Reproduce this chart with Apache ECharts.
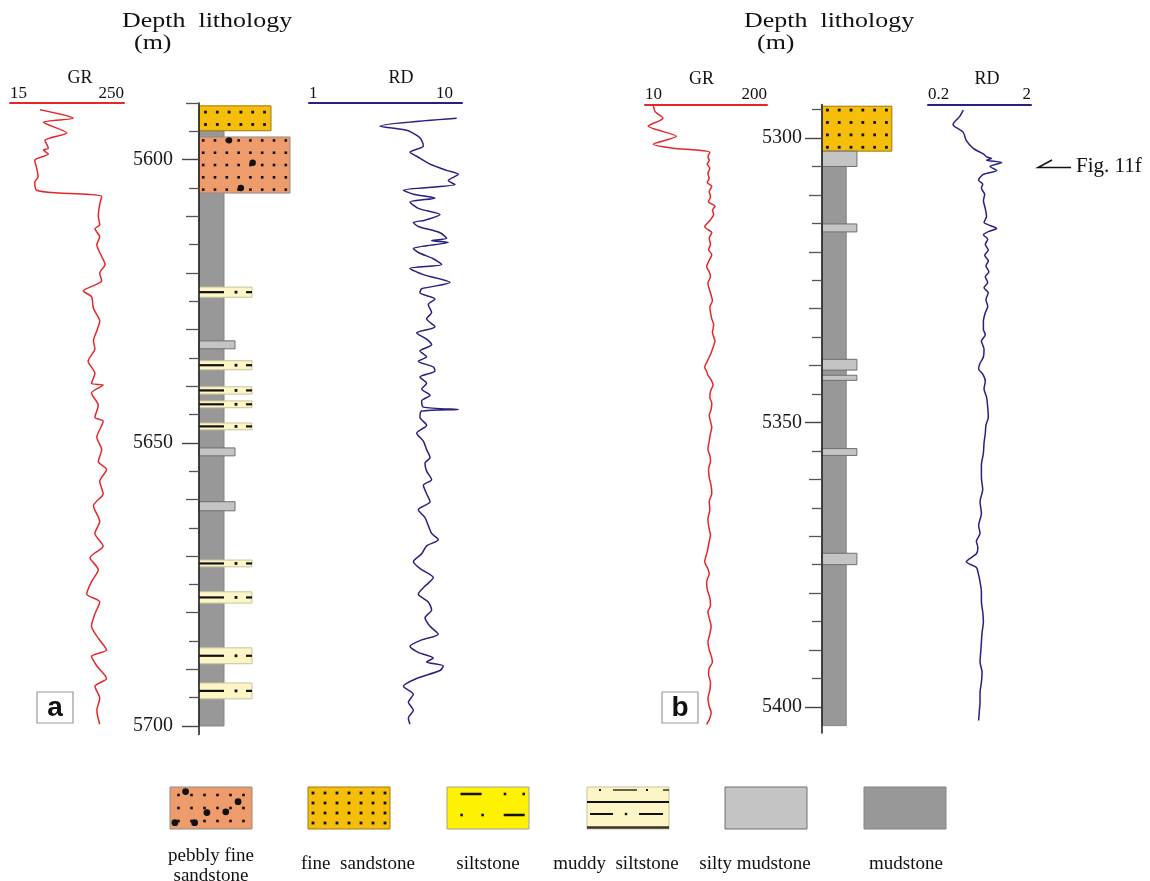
<!DOCTYPE html>
<html><head><meta charset="utf-8">
<script src="https://cdn.jsdelivr.net/npm/echarts@6/dist/echarts.min.js"></script>
<style>html,body{margin:0;padding:0;background:#fff}#c{width:1150px;height:881px}</style>
</head><body><div id="c"></div>
<script>
// ---------------- DATA ----------------
// Well a : [depth (m), value]
const grA = [[5591.2,77],[5592.7,145],[5593.4,84],[5595.3,132],[5596.6,87],[5598.0,94],[5598.3,84],[5599.0,94],[5600.1,66],[5601.5,70],[5603.0,73],[5604.0,66],[5605.4,70],[5605.9,118],[5606.5,204],[5607.9,200],[5610.0,197],[5611.5,200],[5612.2,190],[5613.6,200],[5615.0,194],[5617.1,204],[5618.5,211],[5620.0,200],[5621.4,204],[5623.2,166],[5624.2,183],[5626.3,187],[5628.5,200],[5630.2,194],[5632.0,187],[5633.4,190],[5635.6,176],[5637.7,190],[5639.5,183],[5639.8,207],[5641.2,183],[5643.4,197],[5645.5,190],[5646.2,207],[5649.0,194],[5651.2,204],[5653.3,197],[5654.7,214],[5656.8,200],[5659.0,207],[5661.1,187],[5663.9,200],[5666.0,190],[5668.2,207],[5670.3,180],[5672.4,197],[5674.5,183],[5676.7,173],[5678.1,200],[5680.2,190],[5682.4,183],[5684.5,197],[5686.6,214],[5687.7,183],[5689.4,194],[5691.6,214],[5693.0,190],[5695.1,200],[5697.2,194],[5699.7,200]];
const rdA = [[5592.7,9.23],[5594.1,2.91],[5594.8,4.35],[5595.9,5.18],[5596.6,5.45],[5597.6,5.59],[5598.7,4.57],[5599.4,5.06],[5600.8,6.18],[5601.9,7.94],[5602.6,9.46],[5603.7,8.14],[5604.4,9.0],[5605.4,4.14],[5606.1,4.81],[5606.8,6.66],[5607.5,4.57],[5608.6,5.18],[5609.7,7.18],[5610.7,5.73],[5611.1,4.81],[5611.8,5.18],[5612.9,7.18],[5613.9,7.94],[5614.3,6.33],[5614.6,8.14],[5615.7,4.81],[5616.4,5.18],[5617.5,6.49],[5618.5,7.36],[5619.2,4.57],[5620.3,5.59],[5621.7,8.35],[5622.8,5.45],[5623.5,5.31],[5624.6,6.66],[5625.6,6.02],[5627.0,6.33],[5628.1,5.87],[5629.5,6.66],[5630.6,5.06],[5631.7,5.87],[5632.7,6.33],[5633.8,5.31],[5634.8,5.87],[5635.6,5.18],[5636.6,6.49],[5637.3,6.66],[5638.4,5.31],[5639.5,5.87],[5640.5,5.45],[5641.6,6.18],[5642.6,5.45],[5643.7,5.59],[5644.1,9.46],[5644.4,5.45],[5645.5,5.31],[5646.9,5.87],[5648.3,5.06],[5649.7,5.59],[5651.2,5.87],[5652.6,6.18],[5653.6,5.73],[5655.0,5.87],[5656.5,6.33],[5657.5,5.59],[5659.0,5.87],[5660.4,6.18],[5661.8,5.18],[5663.2,5.73],[5664.6,6.02],[5666.0,6.33],[5667.1,7.0],[5668.2,5.87],[5669.6,5.45],[5671.0,4.81],[5672.4,5.45],[5673.8,6.49],[5675.3,5.73],[5676.7,5.18],[5678.1,6.02],[5679.5,6.33],[5680.9,5.73],[5682.4,6.18],[5683.8,7.0],[5684.8,5.45],[5685.9,4.57],[5687.0,5.18],[5688.0,6.49],[5688.7,5.87],[5689.4,7.55],[5690.2,7.18],[5691.6,5.06],[5693.0,4.14],[5694.4,4.81],[5695.8,4.46],[5697.2,4.81],[5698.6,4.46],[5699.7,4.57]];
// Well b
const grB = [[5294.4,23],[5295.4,26],[5296.5,38],[5297.9,15],[5299.7,59],[5301.1,23],[5301.8,54],[5302.1,90],[5302.5,111],[5303.3,108],[5303.9,110],[5304.6,107],[5305.3,111],[5306.2,108],[5307.1,110],[5307.8,107],[5308.5,114],[5309.4,110],[5310.3,112],[5311.2,109],[5312.0,119],[5312.7,115],[5313.4,117],[5314.5,111],[5315.6,103],[5316.1,108],[5316.6,114],[5317.6,110],[5318.7,112],[5319.6,109],[5320.5,114],[5321.5,110],[5322.6,106],[5323.5,110],[5324.4,112],[5325.5,108],[5326.5,110],[5327.6,113],[5328.6,115],[5329.7,111],[5330.7,112],[5331.8,114],[5332.8,117],[5334.2,115],[5335.7,119],[5336.8,116],[5337.8,113],[5339.0,108],[5340.3,103],[5341.0,106],[5341.7,108],[5342.5,113],[5343.4,116],[5344.5,112],[5345.6,111],[5346.6,114],[5347.7,113],[5348.8,110],[5349.8,112],[5350.9,114],[5351.9,112],[5353.3,110],[5354.7,108],[5355.8,111],[5356.8,112],[5358.2,109],[5359.7,110],[5361.1,113],[5362.5,114],[5363.9,110],[5365.3,111],[5367.0,108],[5368.8,110],[5369.8,112],[5370.9,110],[5372.7,107],[5374.5,103],[5375.5,107],[5376.6,110],[5378.0,106],[5379.4,107],[5380.8,111],[5382.2,112],[5383.3,108],[5384.4,110],[5385.8,113],[5387.2,111],[5388.6,108],[5390.0,110],[5391.0,113],[5392.1,115],[5393.2,110],[5394.3,109],[5395.7,112],[5397.1,111],[5398.5,108],[5399.9,110],[5401.0,113],[5402.0,111],[5403.1,106]];
const rdB = [[5295.1,0.44],[5296.1,0.41],[5297.6,0.35],[5299.0,0.44],[5300.4,0.47],[5301.8,0.55],[5302.8,0.69],[5303.3,0.74],[5303.6,0.83],[5303.9,0.74],[5304.3,1.04],[5305.0,0.80],[5305.7,0.93],[5306.4,0.69],[5307.4,0.62],[5308.1,0.68],[5308.8,0.66],[5309.9,0.71],[5311.0,0.69],[5312.4,0.72],[5313.8,0.74],[5314.8,0.70],[5315.9,0.93],[5316.4,0.78],[5317.0,0.69],[5317.8,0.76],[5318.7,0.72],[5319.7,0.77],[5320.6,0.71],[5321.6,0.77],[5322.5,0.73],[5323.5,0.78],[5324.4,0.72],[5325.4,0.76],[5326.3,0.70],[5327.2,0.77],[5328.4,0.73],[5329.6,0.76],[5330.7,0.72],[5332.2,0.69],[5333.6,0.69],[5334.6,0.72],[5335.7,0.66],[5337.1,0.70],[5338.5,0.69],[5339.6,0.64],[5340.6,0.62],[5341.5,0.68],[5342.7,0.72],[5344.1,0.70],[5345.5,0.74],[5347.3,0.76],[5349.1,0.77],[5350.5,0.73],[5351.9,0.72],[5353.6,0.70],[5355.4,0.69],[5357.5,0.66],[5359.7,0.66],[5361.8,0.68],[5363.9,0.64],[5366.0,0.66],[5368.1,0.62],[5369.5,0.64],[5370.9,0.59],[5372.0,0.61],[5373.1,0.59],[5374.5,0.47],[5375.5,0.59],[5376.8,0.62],[5378.0,0.64],[5379.8,0.66],[5381.5,0.66],[5383.3,0.68],[5385.1,0.69],[5386.9,0.67],[5388.6,0.66],[5390.4,0.65],[5392.1,0.64],[5393.9,0.67],[5395.7,0.66],[5397.5,0.64],[5399.2,0.64],[5400.8,0.63],[5402.4,0.62]];

// Lithology beds: [type, top, bottom]
const lithA = [['mud',5594.9,5700.0],['fine',5590.5,5594.9],['pebbly',5596.0,5605.9],
  ['muddySilt',5622.5,5624.3],['siltyMud',5632.0,5633.4],['muddySilt',5635.5,5637.1],['muddySilt',5640.1,5641.4],
  ['muddySilt',5642.6,5643.8],['muddySilt',5646.5,5647.7],['siltyMud',5650.9,5652.3],['siltyMud',5660.4,5662.0],
  ['muddySilt',5670.7,5671.9],['muddySilt',5676.3,5678.3],['muddySilt',5686.2,5689.0],['muddySilt',5692.4,5695.2]];
const lithB = [['mud',5305.0,5403.3],['fine',5294.4,5302.3],['siltyMud',5302.3,5305.0],
  ['siltyMud',5315.1,5316.5],['siltyMud',5338.9,5340.8],['siltyMud',5341.7,5342.6],['siltyMud',5354.6,5355.8],['siltyMud',5373.0,5375.0]];

const depthLabelsA = [5600, 5650, 5700];
const depthLabelsB = [5300, 5350, 5400];
const grRangeA = [15, 250], rdRangeA = [1, 10], grRangeB = [10, 200], rdRangeB = [0.2, 2];
const lithTypes = ['pebbly','fine','silt','muddySilt','siltyMud','mud'];
const legendNames = ['pebbly fine\nsandstone','fine  sandstone','siltstone','muddy  siltstone','silty mudstone','mudstone'];
// relative grain-size column width (0-100)
const grainWidth = {mud:25, siltyMud:36, muddySilt:53, silt:60, fine:72, pebbly:91};

// ---------------- STYLE ----------------
const SERIF = "'Liberation Serif','Times New Roman',serif";
const RED = '#E5262A', NAVY = '#27217F';
const LITH_FILL = {pebbly:'#EE9C6C', fine:'#F5BE0A', silt:'#FFF200', muddySilt:'#FCF6C6', siltyMud:'#C4C4C4', mud:'#989898'};
const LITH_STROKE = {pebbly:'#8C8C8C', fine:'#9A7A10', silt:'#A0A0A0', muddySilt:'#C8C39C', siltyMud:'#6E6E6E', mud:'#858585'};

function dotGrid(x,y,w,h,dx,dy,s){
  const els=[]; const nx=Math.max(1,Math.round(w/dx)), ny=Math.max(1,Math.round(h/dy));
  const x0=x+(w-(nx-1)*dx)/2, y0=y+(h-(ny-1)*dy)/2;
  for(let i=0;i<ny;i++)for(let j=0;j<nx;j++)
    els.push({type:'rect',silent:true,shape:{x:x0+j*dx-s/2,y:y0+i*dy-s/2,width:s,height:s},style:{fill:'#111'}});
  return els;
}
function drawPattern(t,x,y,w,h,leg){
  const k='#111';
  const els=[{type:'rect',silent:true,shape:{x,y,width:w,height:h},style:{fill:LITH_FILL[t],stroke:LITH_STROKE[t],lineWidth:1}}];
  const seg=(x1,y1,x2,y2,lw,c)=>({type:'line',silent:true,shape:{x1,y1,x2,y2},style:{stroke:c||k,lineWidth:lw}});
  const dot=(cx,cy,s)=>({type:'rect',silent:true,shape:{x:cx-s/2,y:cy-s/2,width:s,height:s},style:{fill:k}});
  if(t==='fine') els.push(...dotGrid(x,y,w,h,leg?12:11.8,leg?10:12.4,2.8));
  if(t==='pebbly'){
    els.push(...dotGrid(x,y,w,h,leg?13:11.8,leg?13:12.3,2.6));
    const P = leg ? [[0.19,0.11],[0.83,0.35],[0.45,0.61],[0.68,0.59],[0.06,0.85],[0.30,0.85]]
                  : [[0.33,0.06],[0.59,0.46],[0.46,0.91]];
    P.forEach(p=>els.push({type:'circle',silent:true,shape:{cx:x+p[0]*w,cy:y+p[1]*h,r:leg?3.4:3.2},style:{fill:k}}));
  }
  if(t==='muddySilt'){
    if(!leg){ const m=y+h/2; els.push(seg(x,m,x+25,m,2.2), dot(x+37,m,2.8), seg(x+w-6,m,x+w,m,2.2)); }
    else {
      els.push(dot(x+13,y+3,2), seg(x+26,y+3,x+50,y+3,1.3), dot(x+60,y+3,2), seg(x+76,y+3,x+w,y+3,1.3));
      els.push(seg(x,y+15,x+w,y+15,2));
      els.push(seg(x+3,y+27,x+26,y+27,2), dot(x+39,y+27,2.4), seg(x+52,y+27,x+76,y+27,2));
      els.push(seg(x,y+h-1.5,x+w,y+h-1.5,2.5,'#3a3325'));
    }
  }
  if(t==='silt'){
    els.push(seg(x+13.5,y+7,x+34.6,y+7,2.5), dot(x+58,y+7,2.6), dot(x+76.7,y+7,2.6));
    els.push(dot(x+14.6,y+28,2.6), dot(x+35.6,y+28,2.6), seg(x+56.7,y+28,x+77.7,y+28,2.5));
  }
  return els;
}

// ---------------- LAYOUT ----------------
const A_MIN=5590, A_MAX=5701.5, B_MIN=5294.1, B_MAX=5404.6;
const TOP_A=103, H_A=631.5, TOP_B=104.5, H_B=628.5;
const grids=[
  {left:10, top:TOP_A, width:114, height:H_A},
  {left:199, top:TOP_A, width:100, height:H_A},
  {left:309, top:TOP_A, width:153, height:H_A},
  {left:645, top:TOP_B, width:122, height:H_B},
  {left:822, top:TOP_B, width:97, height:H_B},
  {left:928, top:TOP_B, width:103, height:H_B}
];

function curveX(gi,type,range,name,color,pad,maxPadRight){
  return {gridIndex:gi,type,min:range[0],max:range[1],logBase:10,position:'top',
    name,nameLocation:'middle',nameGap:16,nameMoveOverlap:false,
    nameTextStyle:{fontFamily:SERIF,fontSize:18,color:'#111',padding:pad},
    axisLine:{show:true,onZero:false,lineStyle:{color,width:2}},
    axisTick:{show:false},splitLine:{show:false},minorTick:{show:false},minorSplitLine:{show:false},
    axisLabel:{customValues:range,alignMinLabel:'left',alignMaxLabel:'right',margin:1,
      fontFamily:SERIF,fontSize:17,color:'#111',
      formatter:(v)=> (maxPadRight && v===range[1]) ? '{r|'+v+'}' : String(v),
      rich:{r:{fontFamily:SERIF,fontSize:17,color:'#111',padding:[0,maxPadRight||0,0,0]}}}
  };
}
const xAxes=[
  curveX(0,'value',grRangeA,'GR',RED,[0,0,0,26]),
  {gridIndex:1,type:'value',min:0,max:100,show:false},
  curveX(2,'log',rdRangeA,'RD',NAVY,[0,0,0,31],9),
  curveX(3,'value',grRangeB,'GR',RED,[0,9,0,0]),
  {gridIndex:4,type:'value',min:0,max:100,show:false},
  curveX(5,'log',rdRangeB,'RD',NAVY,[0,0,0,15])
];

function hiddenY(gi,min,max){return {gridIndex:gi,type:'value',min,max,inverse:true,show:false};}
function depthAxes(gi,min,max,labels,margin){
  const t10=[],t5=[];
  for(let d=Math.ceil(min/5)*5; d<=max; d+=5){ if(labels.includes(d)) continue; (d%10===0?t10:t5).push(d); }
  const base={gridIndex:gi,type:'value',position:'left',offset:0,min,max,inverse:true,splitLine:{show:false},z:10};
  return [
    Object.assign({},base,{axisLine:{show:true,lineStyle:{color:'#222',width:1.6}},
      axisTick:{show:true,customValues:labels,length:17,lineStyle:{color:'#444',width:1.4}},
      axisLabel:{show:true,customValues:labels,margin,fontFamily:SERIF,fontSize:20,color:'#1a1a1a',formatter:(v)=>String(v)}}),
    Object.assign({},base,{axisLine:{show:false},axisTick:{show:true,customValues:t10,length:13,lineStyle:{color:'#555',width:1.3}},axisLabel:{show:false}}),
    Object.assign({},base,{axisLine:{show:false},axisTick:{show:true,customValues:t5,length:10,lineStyle:{color:'#555',width:1.3}},axisLabel:{show:false}})
  ];
}
const yAxes=[
  hiddenY(0,A_MIN,A_MAX),           //0
  ...depthAxes(1,A_MIN,A_MAX,depthLabelsA,26), //1,2,3
  hiddenY(2,A_MIN,A_MAX),           //4
  hiddenY(3,B_MIN,B_MAX),           //5
  ...depthAxes(4,B_MIN,B_MAX,depthLabelsB,20), //6,7,8
  hiddenY(5,B_MIN,B_MAX)            //9
];

function logSeries(data,xi,yi,color){
  return {type:'line',xAxisIndex:xi,yAxisIndex:yi,data:data.map(d=>[d[1],d[0]]),
    showSymbol:false,smooth:0.25,lineStyle:{color,width:1.5},silent:true,z:3};
}
function lithSeries(beds,xi,yi){
  return {type:'custom',xAxisIndex:xi,yAxisIndex:yi,silent:true,z:2,
    data:beds.map(b=>[b[1],b[2],lithTypes.indexOf(b[0])]),
    encode:{y:[0,1]},
    renderItem:function(params,api){
      const top=api.value(0), bot=api.value(1), t=lithTypes[api.value(2)];
      const p0=api.coord([0,top]), p1=api.coord([grainWidth[t],bot]);
      return {type:'group',children:drawPattern(t,p0[0],p0[1],p1[0]-p0[0],p1[1]-p0[1],false)};
    }};
}

// ---------------- GRAPHICS (titles, legend, annotations) ----------------
const G=[];
function txt(x,y,s,font,opt){G.push(Object.assign({type:'text',x,y,silent:true,style:{text:s,font,fill:'#111',align:'left',verticalAlign:'middle'}},opt||{}));}
txt(122,21,'Depth  lithology','22px '+SERIF,{scaleX:1.18});
txt(134,43,'(m)','22px '+SERIF,{scaleX:1.18});
txt(744,21,'Depth  lithology','22px '+SERIF,{scaleX:1.18});
txt(757,43,'(m)','22px '+SERIF,{scaleX:1.18});
// panel letters
[[37,'a'],[662,'b']].forEach(p=>{
  G.push({type:'rect',silent:true,shape:{x:p[0],y:692,width:36,height:31},style:{fill:'#fff',stroke:'#9a9a9a',lineWidth:1.2}});
  G.push({type:'text',silent:true,x:p[0]+18,y:708,style:{text:p[1],font:'bold 28px "Liberation Sans",Arial,sans-serif',fill:'#111',align:'center',verticalAlign:'middle'}});
});
// Fig. 11f annotation
G.push({type:'polyline',silent:true,shape:{points:[[1052,160],[1038,167.5],[1071,167.5]]},style:{stroke:'#111',lineWidth:1.5,fill:null}});
txt(1076,166,'Fig. 11f','21px '+SERIF);
// legend
const legX=[170,308,447,587,725,864], legLabelX=[211,358,488,616,755,906];
lithTypes.forEach((t,i)=>{
  G.push({type:'group',silent:true,children:drawPattern(t,legX[i],787,82,42,true)});
  G.push({type:'text',silent:true,x:legLabelX[i],y:legendNames[i].includes('\n')?866:864,
    style:{text:legendNames[i],font:'19px '+SERIF,fill:'#111',align:'center',verticalAlign:'middle',lineHeight:20}});
});

const option={
  animation:false,
  backgroundColor:'#fff',
  grid:grids,
  xAxis:xAxes,
  yAxis:yAxes,
  series:[
    logSeries(grA,0,0,RED),
    lithSeries(lithA,1,1),
    logSeries(rdA,2,4,NAVY),
    logSeries(grB,3,5,RED),
    lithSeries(lithB,4,6),
    logSeries(rdB,5,9,NAVY)
  ],
  graphic:{elements:G}
};
const chart=echarts.init(document.getElementById('c'),null,{renderer:'canvas'});
chart.setOption(option);
</script>
</body></html>
